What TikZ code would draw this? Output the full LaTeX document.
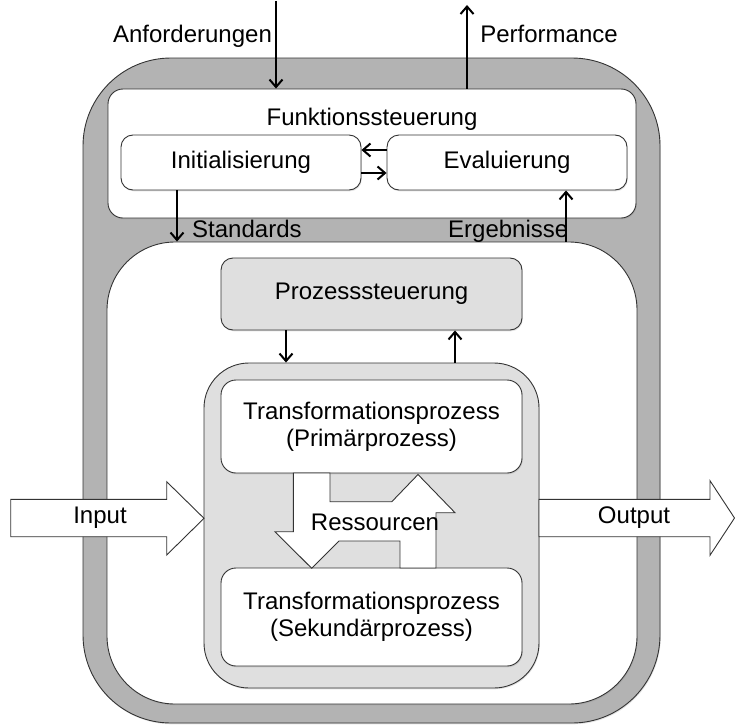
\documentclass[tikz,border=0pt]{standalone}
\usepackage{fontspec}
\setmainfont{Liberation Sans}
\usetikzlibrary{arrows.meta,shadows}
\definecolor{ringgray}{HTML}{B3B3B3}
\definecolor{lightbox}{HTML}{DFDFDF}
\definecolor{edgegray}{HTML}{333333}
\begin{document}
\begin{tikzpicture}[x=1pt,y=-1pt,
  every node/.style={font=\fontsize{24}{27}\selectfont, inner sep=0pt},
  box/.style={draw=edgegray, line width=0.9pt, rounded corners=12pt, fill=white,
    drop shadow={opacity=0.22, shadow xshift=0.8pt, shadow yshift=-1.3pt}},
  arr/.style={draw=black, line width=2pt, -{Straight Barb[length=7.5pt,width=13pt]}},
  bigarrow/.style={draw=edgegray, line width=0.9pt, fill=white, line join=miter}
]
\useasboundingbox (0,0) rectangle (735,725);

% containers
\node[box, fill=ringgray, rounded corners=88pt, minimum width=577, minimum height=665] (outer) at (371.5,390.5) {};
\node[box, rounded corners=68pt, minimum width=530, minimum height=462] (inner) at (372,473) {};
\node[box, rounded corners=15pt, minimum width=528, minimum height=129] (fs) at (372,153.5) {};
\node[anchor=base] (fstext) at (372,125) {Funktionssteuerung};
\node[box, minimum width=240, minimum height=55] (init) at (241,162.5) {Initialisierung};
\node[box, minimum width=240, minimum height=55] (eval) at (507,162.5) {Evaluierung};
\node[box, fill=lightbox, minimum width=301, minimum height=72] (proz) at (371.5,294) {Prozesssteuerung};
\node[box, fill=lightbox, rounded corners=45pt, minimum width=335, minimum height=325] (tc) at (371.5,525.5) {};
\node[box, rounded corners=15pt, minimum width=301, minimum height=93, align=center] (prim) at (371.5,426.5) {Transformationsprozess\\(Primärprozess)};
\node[box, rounded corners=15pt, minimum width=301, minimum height=98, align=center] (sek) at (371.5,617) {Transformationsprozess\\(Sekundärprozess)};

% labels
\node[anchor=base] (anf) at (192.5,43) {Anforderungen};
\node[anchor=base] (perf) at (549,43) {Performance};
\node[anchor=base west] (std) at (192,237) {Standards};
\node[anchor=base west] (erg) at (448,237) {Ergebnisse};

% thin arrows
\coordinate (anfstart) at (276,1);
\coordinate (perfend) at (467,5);
\draw[arr] (anfstart) -- (anfstart |- fs.north);
\draw[arr] (perfend |- fs.north) -- (perfend);
\draw[arr] (eval.west |- 0,150) -- (init.east |- 0,150);
\draw[arr] (init.east |- 0,173) -- (eval.west |- 0,173);
\draw[arr] (init.south -| 177,0) -- (inner.north -| 177,0);
\draw[arr] (inner.north -| 566,0) -- (eval.south -| 566,0);
\draw[arr] (proz.south -| 286,0) -- (tc.north -| 286,0);
\draw[arr] (tc.north -| 455,0) -- (proz.south -| 455,0);

% Ressourcen double arrow
\draw[bigarrow] (293.3,473) -- (330,473) -- (330,501.7) -- (391.8,501.7) -- (418,474.5)
  -- (455,512.7) -- (436,512.7) -- (436,568) -- (400,568) -- (400,541) -- (339,541)
  -- (311.7,568.3) -- (275,531.7) -- (293.3,531.7) -- cycle;
\node (res) at (375,522) {Ressourcen};

% Input / Output arrows
\draw[bigarrow] (10.7,499.3) -- (166.7,499.3) -- (166.7,481.7) -- (204,518.3)
  -- (166.7,555) -- (166.7,536.7) -- (10.7,536.7) -- cycle;
\node (input) at (100,518) {Input};
\draw[bigarrow] (539,499.3) -- (710,499.3) -- (710,480.7) -- (734.5,518)
  -- (710,555.3) -- (710,536.7) -- (539,536.7) -- cycle;
\node (output) at (634,518) {Output};
\end{tikzpicture}
\end{document}
